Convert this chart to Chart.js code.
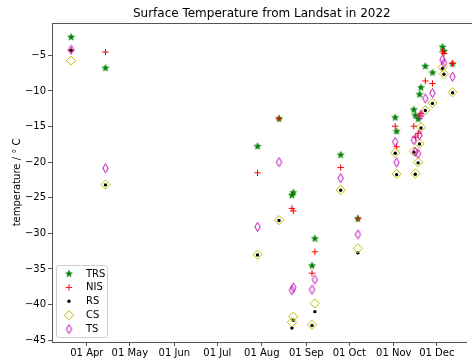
<!DOCTYPE html>
<html>
<head>
<meta charset="utf-8">
<script src="https://cdn.jsdelivr.net/npm/chart.js@4.4.1/dist/chart.umd.min.js"></script>
<style>
  html, body { margin: 0; padding: 0; background: #ffffff; }
  #wrap { width: 472px; height: 358px; }
</style>
</head>
<body>
<div id="wrap"><canvas id="c" width="472" height="358"></canvas></div>
<script>
// Acquisition dates (2022) and surface temperatures in degrees C per retrieval method
const dates = [
  '2022-03-21', '2022-04-14', '2022-07-29', '2022-08-13', '2022-08-22', '2022-08-23',
  '2022-09-05', '2022-09-07', '2022-09-25', '2022-10-07', '2022-11-02', '2022-11-03',
  '2022-11-15', '2022-11-16', '2022-11-18', '2022-11-19', '2022-11-20', '2022-11-23',
  '2022-11-28', '2022-12-05', '2022-12-06', '2022-12-12'
];
const trs = [-2.4, -6.75, -17.75, -13.85, -24.6, -24.25, -34.5, -30.7, -18.95, -27.9, -13.7, -15.65,
             -12.6, -13.4, -13.9, -10.45, -9.5, -6.5, -7.4, -3.8, -4.4, -6.15];
const nis = [-4.3, -4.55, -21.5, -13.9, -26.5, -26.85, -35.6, -32.6, -20.75, -27.95, -14.95, -17.85,
             -14.95, -16.5, -15.95, -13.5, -13.15, -8.6, -8.95, -4.5, -4.75, -6.15];
const rs  = [-4.3, -23.2, -33.05, -28.2, -43.3, -42.2, -42.95, -41.0, -23.95, -32.75, -18.75, -21.75,
             -18.6, -21.7, -20.1, -17.45, -15.2, -12.75, -11.75, -6.85, -7.65, -10.25];
const cs  = [-5.75, -23.15, -33.0, -28.15, -42.5, -41.7, -42.85, -39.85, -23.9, -32.1, -18.7, -21.65,
             -18.5, -21.6, -20.0, -17.4, -15.1, -12.7, -11.7, -6.7, -7.6, -10.2];
const ts  = [-4.2, -20.85, -29.1, -20.0, -38.0, -37.6, -37.9, -36.5, -22.25, -30.15, -17.15, -20.05,
             -16.9, -18.55, -18.8, -16.2, -13.4, -11.05, -10.3, -5.6, -6.1, -8.0];

const monthTicks = ['2022-04-01', '2022-05-01', '2022-06-01', '2022-07-01', '2022-08-01',
                    '2022-09-01', '2022-10-01', '2022-11-01', '2022-12-01'];
const monthNames = ['Jan', 'Feb', 'Mar', 'Apr', 'May', 'Jun', 'Jul', 'Aug', 'Sep', 'Oct', 'Nov', 'Dec'];
const yTicks = [-5, -10, -15, -20, -25, -30, -35, -40, -45];

const FONT = "'DejaVu Sans', 'Liberation Sans', sans-serif";
const AXIS = '#555555';

// day-of-year (0 = 1 Jan 2022)
function dayOf(s) {
  const y = +s.slice(0, 4), m = +s.slice(5, 7) - 1, d = +s.slice(8, 10);
  return (Date.UTC(y, m, d) - Date.UTC(2022, 0, 1)) / 864e5;
}
function tickLabel(day) {
  const t = new Date(Date.UTC(2022, 0, 1) + day * 864e5);
  return String(t.getUTCDate()).padStart(2, '0') + ' ' + monthNames[t.getUTCMonth()];
}
const xs = dates.map(dayOf);
const pts = vals => vals.map((v, i) => ({ x: xs[i], y: v }));

// x limits: data span plus 5% margins; the right end of the axes runs past the canvas edge
const xMin = Math.min(...xs), xMax = Math.max(...xs);
const xPad = (xMax - xMin) * 0.05;
const xLo = xMin - xPad, xHiFull = xMax + xPad;
const LEFT = 52, TOP = 23, BOTTOM = 342, W = 472, FULL_RIGHT = 477.7;
const xHiVisible = xLo + (W - LEFT) * (xHiFull - xLo) / (FULL_RIGHT - LEFT);

// marker sprites
function makeStar(color, r) {
  const s = Math.ceil(r * 2 + 2), c = document.createElement('canvas');
  c.width = s; c.height = s;
  const g = c.getContext('2d');
  g.translate(s / 2, s / 2 + 0.3);
  g.beginPath();
  for (let i = 0; i < 10; i++) {
    const rr = i % 2 === 0 ? r : r * 0.42;
    const a = -Math.PI / 2 + i * Math.PI / 5;
    g.lineTo(rr * Math.cos(a), rr * Math.sin(a));
  }
  g.closePath();
  g.fillStyle = color; g.fill();
  g.strokeStyle = color; g.lineWidth = 0.6; g.stroke();
  return c;
}
function makeThinDiamond(color, w, h) {
  const c = document.createElement('canvas');
  c.width = Math.ceil(w + 3); c.height = Math.ceil(h + 3);
  const g = c.getContext('2d');
  const cx = c.width / 2, cy = c.height / 2;
  g.beginPath();
  g.moveTo(cx, cy - h / 2); g.lineTo(cx + w / 2, cy); g.lineTo(cx, cy + h / 2); g.lineTo(cx - w / 2, cy);
  g.closePath();
  g.strokeStyle = color; g.lineWidth = 1; g.stroke();
  return c;
}
const GREEN = '#008000', RED = '#ff0000', OLIVE = '#bfbf00', MAGENTA = '#bf00bf';
const starImg = makeStar(GREEN, 3.6);
const thinImg = makeThinDiamond(MAGENTA, 5.4, 9);

const series = [
  { label: 'TRS', data: pts(trs), pointStyle: starImg, pointRadius: 4, borderColor: GREEN, backgroundColor: GREEN, order: 5 },
  { label: 'NIS', data: pts(nis), pointStyle: 'cross', pointRadius: 3.2, borderWidth: 1, borderColor: RED, backgroundColor: RED, order: 4 },
  { label: 'RS',  data: pts(rs),  pointStyle: 'circle', pointRadius: 1.7, borderWidth: 0, borderColor: '#000', backgroundColor: '#000', order: 3 },
  { label: 'CS',  data: pts(cs),  pointStyle: 'rectRot', pointRadius: 4.6, borderWidth: 1, borderColor: OLIVE, backgroundColor: 'rgba(0,0,0,0)', order: 2 },
  { label: 'TS',  data: pts(ts),  pointStyle: thinImg, pointRadius: 5, borderColor: MAGENTA, backgroundColor: MAGENTA, order: 1 }
];
series.forEach(s => { s.showLine = false; s.pointHoverRadius = s.pointRadius; });

function drawMarker(g, s, x, y) {
  g.save();
  if (s.pointStyle instanceof HTMLCanvasElement) {
    g.drawImage(s.pointStyle, x - s.pointStyle.width / 2, y - s.pointStyle.height / 2);
  } else if (s.pointStyle === 'cross') {
    g.strokeStyle = s.borderColor; g.lineWidth = 1;
    g.beginPath();
    g.moveTo(x - s.pointRadius, y); g.lineTo(x + s.pointRadius, y);
    g.moveTo(x, y - s.pointRadius); g.lineTo(x, y + s.pointRadius);
    g.stroke();
  } else if (s.pointStyle === 'circle') {
    g.fillStyle = s.backgroundColor;
    g.beginPath(); g.arc(x, y, s.pointRadius, 0, Math.PI * 2); g.fill();
  } else if (s.pointStyle === 'rectRot') {
    const r = s.pointRadius;
    g.strokeStyle = s.borderColor; g.lineWidth = 1;
    g.beginPath();
    g.moveTo(x, y - r); g.lineTo(x + r, y); g.lineTo(x, y + r); g.lineTo(x - r, y);
    g.closePath(); g.stroke();
  }
  g.restore();
}

const framePlugin = {
  id: 'frame',
  afterDraw(chart) {
    const g = chart.ctx, a = chart.chartArea, xScale = chart.scales.x;
    g.save();
    // top spine
    g.strokeStyle = AXIS; g.lineWidth = 1;
    g.beginPath(); g.moveTo(a.left, Math.round(a.top) + 0.5); g.lineTo(chart.width, Math.round(a.top) + 0.5); g.stroke();
    // title, centred over the full axes width
    const cx = (a.left + xScale.getPixelForValue(xHiFull)) / 2;
    g.fillStyle = '#000'; g.font = '12px ' + FONT;
    g.textAlign = 'center'; g.textBaseline = 'middle';
    g.fillText('Surface Temperature from Landsat in 2022', cx, 14);
    // legend box
    const bx = 56.5, by = 265.5, bw = 51, bh = 72, rad = 2.5;
    g.beginPath();
    g.moveTo(bx + rad, by); g.lineTo(bx + bw - rad, by); g.arcTo(bx + bw, by, bx + bw, by + rad, rad);
    g.lineTo(bx + bw, by + bh - rad); g.arcTo(bx + bw, by + bh, bx + bw - rad, by + bh, rad);
    g.lineTo(bx + rad, by + bh); g.arcTo(bx, by + bh, bx, by + bh - rad, rad);
    g.lineTo(bx, by + rad); g.arcTo(bx, by, bx + rad, by, rad);
    g.closePath();
    g.fillStyle = 'rgba(255,255,255,0.8)'; g.fill();
    g.strokeStyle = '#d0d0d0'; g.stroke();
    g.font = '10px ' + FONT; g.textAlign = 'left'; g.textBaseline = 'middle'; g.fillStyle = '#000';
    series.forEach((s, i) => {
      const y = 273.5 + i * 13.9;
      drawMarker(g, s, 69, y);
      g.fillStyle = '#000';
      g.fillText(s.label, 86, y + 0.5);
    });
    g.restore();
  }
};

new Chart(document.getElementById('c'), {
  type: 'scatter',
  data: { datasets: series },
  options: {
    responsive: false,
    animation: false,
    devicePixelRatio: 1,
    layout: { padding: { top: TOP, right: 0, left: 0, bottom: 0 } },
    plugins: { legend: { display: false }, title: { display: false }, tooltip: { enabled: false } },
    scales: {
      x: {
        type: 'linear',
        min: xLo,
        max: xHiVisible,
        afterBuildTicks: sc => { sc.ticks = monthTicks.map(s => ({ value: dayOf(s) })); },
        afterFit: sc => { sc.height = 358 - BOTTOM; },
        ticks: {
          autoSkip: false, maxRotation: 0, padding: 1,
          font: { family: FONT, size: 10 }, color: '#000',
          callback: v => tickLabel(v)
        },
        grid: { display: true, drawOnChartArea: false, drawTicks: true, tickLength: 4, tickColor: AXIS },
        border: { display: true, color: AXIS, width: 1 }
      },
      y: {
        type: 'linear',
        min: -45.26,
        max: -0.46,
        afterBuildTicks: sc => { sc.ticks = yTicks.map(v => ({ value: v })); },
        afterFit: sc => { sc.width = LEFT; },
        ticks: {
          padding: 2,
          font: { family: FONT, size: 10 }, color: '#000',
          callback: v => String(v).replace('-', '\u2212')
        },
        title: {
          display: true, text: 'temperature / \u00b0 C',
          font: { family: FONT, size: 10 }, color: '#000',
          padding: { top: 11, bottom: 0 }
        },
        grid: { display: true, drawOnChartArea: false, drawTicks: true, tickLength: 4, tickColor: AXIS },
        border: { display: true, color: AXIS, width: 1 }
      }
    }
  },
  plugins: [framePlugin]
});
</script>
</body>
</html>
